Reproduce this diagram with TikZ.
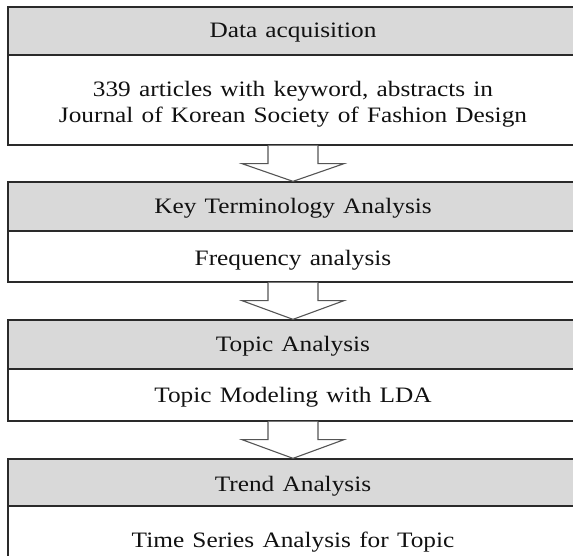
\documentclass[tikz,border=0pt]{standalone}
\usepackage{fontspec}
\setmainfont[FakeStretch=1.15, WordSpace=1.3]{Liberation Serif}
\usetikzlibrary{calc}
\definecolor{hdrgray}{HTML}{D9D9D9}
\definecolor{edgedark}{HTML}{2A2A2A}
\definecolor{arrowgray}{HTML}{555555}
\definecolor{txt}{HTML}{111111}
\tikzset{
  hdr/.style={draw=edgedark, line width=1.3bp, fill=hdrgray, minimum width=570bp, inner sep=0pt, anchor=center},
  bodybox/.style={draw=edgedark, line width=1.3bp, fill=white, minimum width=570bp, inner sep=0pt, anchor=center},
  lbl/.style={anchor=base, inner sep=0pt, text=txt, font=\fontsize{22bp}{26bp}\selectfont},
  blockarrow/.style={draw=arrowgray, line width=1.1bp, fill=white, line join=miter}
}
\begin{document}
\begin{tikzpicture}[x=1bp, y=-1bp]
\useasboundingbox (0,0) rectangle (573,556);
% box 1
\node[hdr, minimum height=48bp] (h1) at (293,31) {};
\node[bodybox, minimum height=90bp] (b1) at (293,100) {};
% box 2
\node[hdr, minimum height=49bp] (h2) at (293,206.5) {};
\node[bodybox, minimum height=51bp] (b2) at (293,256.5) {};
% box 3
\node[hdr, minimum height=49bp] (h3) at (293,344.5) {};
\node[bodybox, minimum height=52bp] (b3) at (293,395) {};
% box 4
\node[hdr, minimum height=47bp] (h4) at (293,482.5) {};
\node[bodybox, minimum height=60bp] (b4) at (293,536) {};
% texts
\node[lbl] (t1) at (293,38) {Data acquisition};
\node[lbl] (t1a) at (293,97) {339 articles with keyword, abstracts in};
\node[lbl] (t1b) at (293,123) {Journal of Korean Society of Fashion Design};
\node[lbl] (t2) at (293,214) {Key Terminology Analysis};
\node[lbl] (t2b) at (293,265) {Frequency analysis};
\node[lbl] (t3) at (293,351.5) {Topic Analysis};
\node[lbl] (t3b) at (293,402) {Topic Modeling with LDA};
\node[lbl] (t4) at (293,491) {Trend Analysis};
\node[lbl] (t4b) at (293,547) {Time Series Analysis for Topic};
% block arrows
\foreach \a/\b in {b1/h2, b2/h3, b3/h4}{
  \draw[blockarrow] ($(\a.south)+(-25,0)$) -- ($(\a.south)+(-25,18)$) -- ($(\a.south)+(-51,18)$)
     -- (\b.north) -- ($(\a.south)+(51,18)$) -- ($(\a.south)+(25,18)$) -- ($(\a.south)+(25,0)$);
}
\end{tikzpicture}
\end{document}
